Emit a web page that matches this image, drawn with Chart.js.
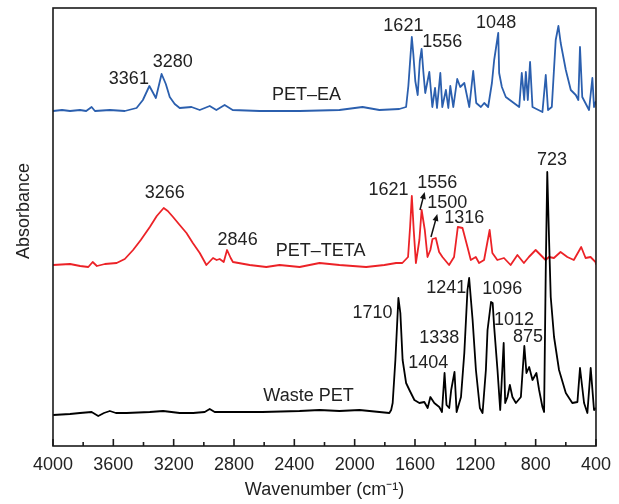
<!DOCTYPE html>
<html>
<head>
<meta charset="utf-8">
<script src="https://cdn.jsdelivr.net/npm/chart.js@4.4.1/dist/chart.umd.min.js"></script>
<style>
  html, body { margin: 0; padding: 0; background: #fff; }
  #wrap { width: 619px; height: 504px; position: relative; }
</style>
</head>
<body>
<div id="wrap"><canvas id="ftirChart"></canvas></div>
<script>
// wavenumber (cm-1) and absorbance (arbitrary, stacked)
const eaWavenumber = [4000,3940,3887,3821,3780,3744,3722,3623,3524,3446,3404,3361,3318,3280,3252,3226,3193,3160,3082,3027,2961,2917,2862,2809,2630,2365,2101,1948,1836,1704,1659,1644,1621,1611,1598,1582,1568,1556,1545,1532,1505,1485,1467,1454,1432,1419,1395,1379,1366,1346,1320,1300,1273,1240,1214,1194,1163,1141,1115,1090,1075,1048,1042,1024,998,909,892,876,865,852,837,821,755,733,718,693,667,649,634,600,567,534,517,506,491,446,424,413,400];
const eaAbs = [335,336,335,336,335,339,335,336,335,338,346,360,348,372,362,349,342,338,339,336,340,336,341,336,335,335,336,339,336,337,339,360,409,392,365,351,385,397,375,353,374,339,358,338,373,339,356,338,360,339,367,359,363,339,375,343,339,343,339,363,386,413,373,359,349,339,373,346,374,346,384,339,334,371,336,339,406,420,403,376,356,351,346,399,349,336,368,339,345];

const tetaWavenumber = [4000,3887,3820,3766,3737,3709,3656,3578,3524,3469,3418,3358,3312,3266,3239,3204,3160,3115,3073,3027,2983,2939,2915,2895,2868,2846,2822,2807,2696,2586,2498,2365,2233,2101,1924,1803,1725,1684,1646,1632,1621,1608,1594,1571,1556,1535,1517,1498,1484,1462,1440,1418,1374,1341,1316,1285,1252,1230,1197,1175,1142,1105,1087,1054,1010,966,921,878,845,800,767,734,712,679,635,590,547,498,469,436,403,400];
const tetaAbs = [181,182,180,179,184,180,182,183,187,196,206,219,230,238,235,229,221,213,203,193,181,188,186,187,184,196,188,184,181,179,181,179,183,181,179,181,183,183,189,220,250,215,183,206,236,216,189,196,207,208,194,189,181,189,219,218,199,186,189,183,186,216,193,186,188,181,191,183,189,196,191,186,189,188,194,189,186,199,188,189,184,182];

const wasteWavenumber = [4000,3887,3821,3744,3700,3662,3623,3583,3512,3358,3270,3160,3071,2994,2961,2928,2762,2612,2365,2233,2101,1968,1836,1770,1758,1748,1730,1710,1697,1682,1659,1637,1604,1571,1538,1516,1498,1472,1439,1421,1404,1391,1373,1360,1338,1324,1295,1273,1252,1241,1218,1196,1170,1152,1130,1119,1096,1085,1075,1053,1035,1012,1002,987,971,954,931,898,875,861,843,821,795,777,755,744,733,723,711,700,678,645,600,557,523,506,479,457,435,413,400];
const wasteAbs = [31,32,33,34,30,33,35,33,33,34,35,33,33,34,37,34,34,34,35,36,35,36,34,33,36,43,86,148,133,86,63,56,46,43,44,38,49,43,39,34,73,41,38,56,74,34,49,93,156,168,126,76,38,33,76,116,144,143,119,76,36,103,43,49,61,49,43,49,100,73,79,66,73,56,39,34,176,274,206,149,109,76,53,43,44,78,43,33,78,36,38];

const xTicks = [4000,3600,3200,2800,2400,2000,1600,1200,800,400];

// peak annotations: text placed at (wavenumber, absorbance)
const peakLabels = [
  {text: "3361", wn: 3497, abs: 367},
  {text: "3280", wn: 3206, abs: 384},
  {text: "PET\u2013EA", wn: 2319, abs: 351},
  {text: "1621", wn: 1677, abs: 420},
  {text: "1556", wn: 1419, abs: 404},
  {text: "1048", wn: 1062, abs: 423},
  {text: "3266", wn: 3259, abs: 253},
  {text: "2846", wn: 2776, abs: 206},
  {text: "PET\u2013TETA", wn: 2226, abs: 195},
  {text: "1621", wn: 1776, abs: 256},
  {text: "1556", wn: 1452, abs: 263},
  {text: "1500", wn: 1386, abs: 243},
  {text: "1316", wn: 1273, abs: 228},
  {text: "723", wn: 691, abs: 286},
  {text: "1710", wn: 1882, abs: 133},
  {text: "1404", wn: 1512, abs: 83},
  {text: "1338", wn: 1439, abs: 108},
  {text: "1241", wn: 1392, abs: 158},
  {text: "1096", wn: 1022, abs: 157},
  {text: "1012", wn: 943, abs: 126},
  {text: "875", wn: 850, abs: 109},
  {text: "Waste PET", wn: 2306, abs: 50}
];
const arrows = [
  {from: [1567, 236], to: [1536, 254]},
  {from: [1494, 209], to: [1452, 232]}
];

const FONT = '"Liberation Sans", Arial, sans-serif';
const TEXT = "#222222";

function toPoints(xs, ys) {
  return xs.map((x, i) => ({x: x, y: ys[i]}));
}

const framePlugin = {
  id: "frame",
  afterDatasetsDraw(chart) {
    const {ctx, chartArea: a, scales: {x, y}} = chart;
    ctx.save();
    ctx.strokeStyle = "#1a1a1a";
    ctx.lineWidth = 1.6;
    ctx.strokeRect(a.left, a.top, a.right - a.left, a.bottom - a.top);
    for (let v = 400; v <= 4000; v += 200) {
      const px = x.getPixelForValue(v);
      const len = v % 400 === 0 ? 7 : 4;
      ctx.beginPath();
      ctx.moveTo(px, a.bottom);
      ctx.lineTo(px, a.bottom - len);
      ctx.stroke();
    }
    ctx.fillStyle = TEXT;
    ctx.font = "18px " + FONT;
    ctx.textAlign = "center";
    ctx.textBaseline = "middle";
    peakLabels.forEach(l => {
      ctx.fillText(l.text, x.getPixelForValue(l.wn), y.getPixelForValue(l.abs));
    });
    ctx.strokeStyle = "#111";
    ctx.fillStyle = "#111";
    ctx.lineWidth = 1.5;
    arrows.forEach(ar => {
      const x1 = x.getPixelForValue(ar.from[0]), y1 = y.getPixelForValue(ar.from[1]);
      const x2 = x.getPixelForValue(ar.to[0]), y2 = y.getPixelForValue(ar.to[1]);
      const ang = Math.atan2(y2 - y1, x2 - x1);
      ctx.beginPath();
      ctx.moveTo(x1, y1);
      ctx.lineTo(x2 - 4 * Math.cos(ang), y2 - 4 * Math.sin(ang));
      ctx.stroke();
      ctx.beginPath();
      ctx.moveTo(x2, y2);
      ctx.lineTo(x2 - 7 * Math.cos(ang) + 3 * Math.sin(ang), y2 - 7 * Math.sin(ang) - 3 * Math.cos(ang));
      ctx.lineTo(x2 - 7 * Math.cos(ang) - 3 * Math.sin(ang), y2 - 7 * Math.sin(ang) + 3 * Math.cos(ang));
      ctx.closePath();
      ctx.fill();
    });
    // y axis title
    ctx.fillStyle = TEXT;
    ctx.translate(24, 211);
    ctx.rotate(-Math.PI / 2);
    ctx.fillText("Absorbance", 0, 0);
    ctx.restore();
  }
};

new Chart(document.getElementById("ftirChart"), {
  type: "line",
  data: {
    datasets: [
      {label: "Waste PET", data: toPoints(wasteWavenumber, wasteAbs), borderColor: "#000000", order: 0},
      {label: "PET-TETA", data: toPoints(tetaWavenumber, tetaAbs), borderColor: "#ec2227", order: 1},
      {label: "PET-EA", data: toPoints(eaWavenumber, eaAbs), borderColor: "#2b5fae", order: 2}
    ]
  },
  options: {
    responsive: true,
    maintainAspectRatio: false,
    animation: false,
    layout: {padding: {left: 53, right: 22, top: 8, bottom: 0}},
    elements: {
      line: {borderWidth: 1.8, tension: 0, fill: false, borderJoinStyle: "round"},
      point: {radius: 0}
    },
    plugins: {legend: {display: false}, tooltip: {enabled: false}},
    scales: {
      x: {
        type: "linear",
        reverse: true,
        min: 400,
        max: 4000,
        afterBuildTicks: s => { s.ticks = xTicks.map(v => ({value: v})); },
        afterFit: s => { s.height = 58; },
        grid: {display: false, drawTicks: false, tickLength: 0},
        border: {display: false},
        ticks: {padding: 8, maxRotation: 0, autoSkip: false, color: TEXT, font: {family: FONT, size: 18},
                callback: v => String(v)},
        title: {display: true, text: "Wavenumber (cm\u207B\u00B9)", color: TEXT,
                font: {family: FONT, size: 18}, padding: {top: 0, bottom: 3}}
      },
      y: {display: false, min: 0, max: 438}
    }
  },
  plugins: [framePlugin]
});
</script>
</body>
</html>
